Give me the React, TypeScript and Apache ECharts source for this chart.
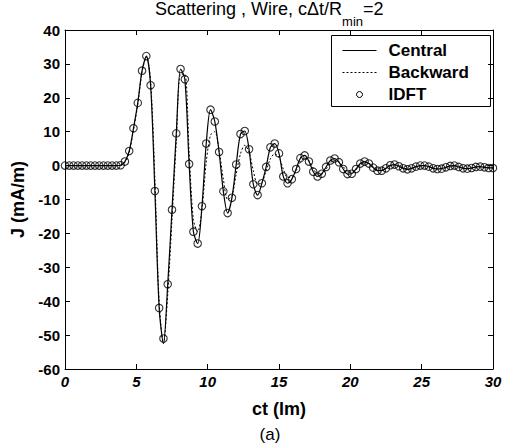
import React, { useEffect, useRef } from "react";
import * as echarts from "echarts";

const FONT = "'Liberation Sans', Arial, Helvetica, sans-serif";

// sample times ct (lm)
const timeValues = [
  0, 0.3, 0.6, 0.9, 1.2, 1.5, 1.8, 2.1, 2.4, 2.7,
  3, 3.3, 3.6, 3.9, 4.2, 4.5, 4.8, 5.1, 5.4, 5.7,
  6, 6.3, 6.6, 6.9, 7.2, 7.5, 7.8, 8.1, 8.4, 8.7,
  9, 9.3, 9.6, 9.9, 10.2, 10.5, 10.8, 11.1, 11.4, 11.7,
  12, 12.3, 12.6, 12.9, 13.2, 13.5, 13.8, 14.1, 14.4, 14.7,
  15, 15.3, 15.6, 15.9, 16.2, 16.5, 16.8, 17.1, 17.4, 17.7,
  18, 18.3, 18.6, 18.9, 19.2, 19.5, 19.8, 20.1, 20.4, 20.7,
  21, 21.3, 21.6, 21.9, 22.2, 22.5, 22.8, 23.1, 23.4, 23.7,
  24, 24.3, 24.6, 24.9, 25.2, 25.5, 25.8, 26.1, 26.4, 26.7,
  27, 27.3, 27.6, 27.9, 28.2, 28.5, 28.8, 29.1, 29.4, 29.7,
  30,
];

// J (mA/m), Central difference
const centralValues = [
  0, 0, 0, 0, 0, 0, 0, 0, 0, 0,
  0, 0, 0, 0.1, 1.2, 4.3, 11, 18.5, 28, 32.3,
  23.7, -7.5, -42, -52.5, -35, -13, 9.5, 28.5, 25.5, 0.5,
  -19.5, -23, -12, 6.5, 16.5, 13, 4, -7.6, -14, -9.5,
  0.3, 9.3, 10.2, 4.8, -5.5, -8.7, -5.2, -0.4, 5.4, 6.5,
  3.6, -3.2, -5.2, -4, -1, 2.2, 3, 1.2, -1.8, -3.2,
  -2.4, -0.4, 1.5, 2.1, 1, -1, -2.5, -2.4, -1, 0.6,
  1.2, 0.6, -0.6, -1.5, -1.5, -0.8, 0.1, 0.3, -0.2, -0.8,
  -1.1, -0.8, -0.3, 0, 0, -0.3, -0.8, -1, -0.9, -0.5,
  -0.1, 0, -0.4, -0.8, -0.9, -0.7, -0.4, -0.3, -0.5, -0.7,
  -0.7,
];

// J (mA/m), Backward difference
const backwardValues = [
  0, 0, 0, 0, 0, 0, 0, 0, 0, 0,
  0, 0, 0, 0, 1, 3.8, 10.5, 18, 27.5, 32,
  25, -4, -40, -52.5, -38, -16, 7, 27, 27, 4,
  -16, -19.5, -13, 1, 9, 10, 4.5, -4, -10, -9,
  -2.5, 3.5, 6, 4, -1.5, -5.5, -5, -1.5, 2, 3.5,
  2.5, -1, -3.5, -3.5, -1.5, 1, 2.2, 1.5, -0.8, -2.5,
  -2.5, -1, 0.8, 1.6, 1.2, -0.3, -1.8, -2.2, -1.2, 0.2,
  0.9, 0.7, -0.3, -1.2, -1.4, -0.9, -0.1, 0.2, 0, -0.6,
  -1, -0.9, -0.4, -0.1, 0, -0.2, -0.7, -0.9, -0.9, -0.6,
  -0.2, -0.1, -0.3, -0.7, -0.9, -0.8, -0.5, -0.3, -0.4, -0.6,
  -0.7,
];

// J (mA/m), IDFT reference points
const idftValues = [
  0, 0, 0, 0, 0, 0, 0, 0, 0, 0,
  0, 0, 0, 0.1, 1.2, 4.3, 11, 18.5, 28, 32.3,
  23.7, -7.5, -42, -51, -35, -13, 9.5, 28.5, 25.5, 0.5,
  -19.5, -23, -12, 6.5, 16.5, 13, 4, -7.6, -14, -9.5,
  0.3, 9.3, 10.2, 4.8, -5.5, -8.7, -5.2, -0.4, 5.4, 6.5,
  3.6, -3.2, -5.2, -4, -1, 2.2, 3, 1.2, -1.8, -3.2,
  -2.4, -0.4, 1.5, 2.1, 1, -1, -2.5, -2.4, -1, 0.6,
  1.2, 0.6, -0.6, -1.5, -1.5, -0.8, 0.1, 0.3, -0.2, -0.8,
  -1.1, -0.8, -0.3, 0, 0, -0.3, -0.8, -1, -0.9, -0.5,
  -0.1, 0, -0.4, -0.8, -0.9, -0.7, -0.4, -0.3, -0.5, -0.7,
  -0.7,
];

const seriesNames = ["Central", "Backward", "IDFT"];

const pairs = (vals: number[]) => timeValues.map((t, i) => [t, vals[i]]);

export default function App() {
  const ref = useRef<HTMLDivElement>(null);
  useEffect(() => {
    if (!ref.current) return;
    const chart = echarts.init(ref.current, null, { renderer: "svg" });
    const axisCommon = {
      axisLine: { show: true, onZero: false, lineStyle: { color: "#000", width: 1 } },
      axisTick: { show: true, inside: true, length: 5, lineStyle: { color: "#000", width: 1 } },
      splitLine: { show: false },
    };
    chart.setOption({
      animation: false,
      backgroundColor: "#fff",
      grid: { left: 65, right: 14, top: 30, bottom: 79, containLabel: false },
      xAxis: [
        {
          type: "value", min: 0, max: 30, interval: 5, position: "bottom",
          ...axisCommon,
          axisLabel: { color: "#000", fontSize: 15, fontWeight: "bold", fontStyle: "italic", fontFamily: FONT, margin: 5 },
          name: "ct (lm)", nameLocation: "middle", nameGap: 31,
          nameTextStyle: { color: "#000", fontSize: 18, fontWeight: "bold", fontFamily: FONT },
        },
        {
          type: "value", min: 0, max: 30, interval: 5, position: "top",
          ...axisCommon, axisLabel: { show: false },
        },
      ],
      yAxis: [
        {
          type: "value", min: -60, max: 40, interval: 10, position: "left",
          ...axisCommon,
          axisLabel: { color: "#000", fontSize: 15, fontWeight: "bold", fontFamily: FONT, margin: 5 },
          name: "J (mA/m)", nameLocation: "middle", nameGap: 33,
          nameTextStyle: { color: "#000", fontSize: 18, fontWeight: "bold", fontFamily: FONT },
        },
        {
          type: "value", min: -60, max: 40, interval: 10, position: "right",
          ...axisCommon, axisLabel: { show: false },
        },
      ],
      series: [
        {
          name: seriesNames[0], type: "line", data: pairs(centralValues), smooth: 0.3,
          symbol: "none", lineStyle: { color: "#000", width: 1.2 }, z: 3,
        },
        {
          name: seriesNames[1], type: "line", data: pairs(backwardValues), smooth: 0.3,
          symbol: "none", lineStyle: { color: "#000", width: 1, type: [2, 2] }, z: 2,
        },
        {
          name: seriesNames[2], type: "scatter", data: pairs(idftValues),
          symbol: "circle", symbolSize: 7.5,
          itemStyle: { color: "rgba(255,255,255,0)", borderColor: "#000", borderWidth: 1.1 }, z: 4,
        },
      ],
      graphic: [
        {
          type: "text", left: 155, top: 0,
          style: {
            text: "{a|Scattering , Wire, c\u0394t/R}{b|min}{a|=2}",
            fill: "#000",
            rich: {
              a: { fontSize: 18, fontFamily: FONT, fill: "#000" },
              b: { fontSize: 13, fontFamily: FONT, fill: "#000", padding: [24, 0, 0, 0] },
            },
          },
        },
        {
          type: "group", left: 331, top: 35,
          children: [
            { type: "rect", shape: { x: 0, y: 0, width: 159, height: 71 }, style: { fill: "#fff", stroke: "#000", lineWidth: 1 } },
            { type: "line", shape: { x1: 11, y1: 15, x2: 45, y2: 15 }, style: { stroke: "#000", lineWidth: 1.2 } },
            { type: "text", x: 57, y: 15, style: { text: seriesNames[0], fontSize: 17, fontWeight: "bold", fontFamily: FONT, fill: "#000", verticalAlign: "middle" } },
            { type: "line", shape: { x1: 11, y1: 37, x2: 45, y2: 37 }, style: { stroke: "#000", lineWidth: 1, lineDash: [2, 2] } },
            { type: "text", x: 57, y: 37, style: { text: seriesNames[1], fontSize: 17, fontWeight: "bold", fontFamily: FONT, fill: "#000", verticalAlign: "middle" } },
            { type: "circle", shape: { cx: 28, cy: 59, r: 3 }, style: { fill: "none", stroke: "#000", lineWidth: 1 } },
            { type: "text", x: 57, y: 59, style: { text: seriesNames[2], fontSize: 17, fontWeight: "bold", fontFamily: FONT, fill: "#000", verticalAlign: "middle" } },
          ],
        },
        {
          type: "text", x: 270, y: 434,
          style: { text: "(a)", fontSize: 17, fontFamily: FONT, fill: "#000", align: "center", verticalAlign: "middle" },
        },
      ],
    });
    return () => chart.dispose();
  }, []);
  return <div ref={ref} style={{ position: "fixed", left: 0, top: 0, width: 507, height: 448 }} />;
}
